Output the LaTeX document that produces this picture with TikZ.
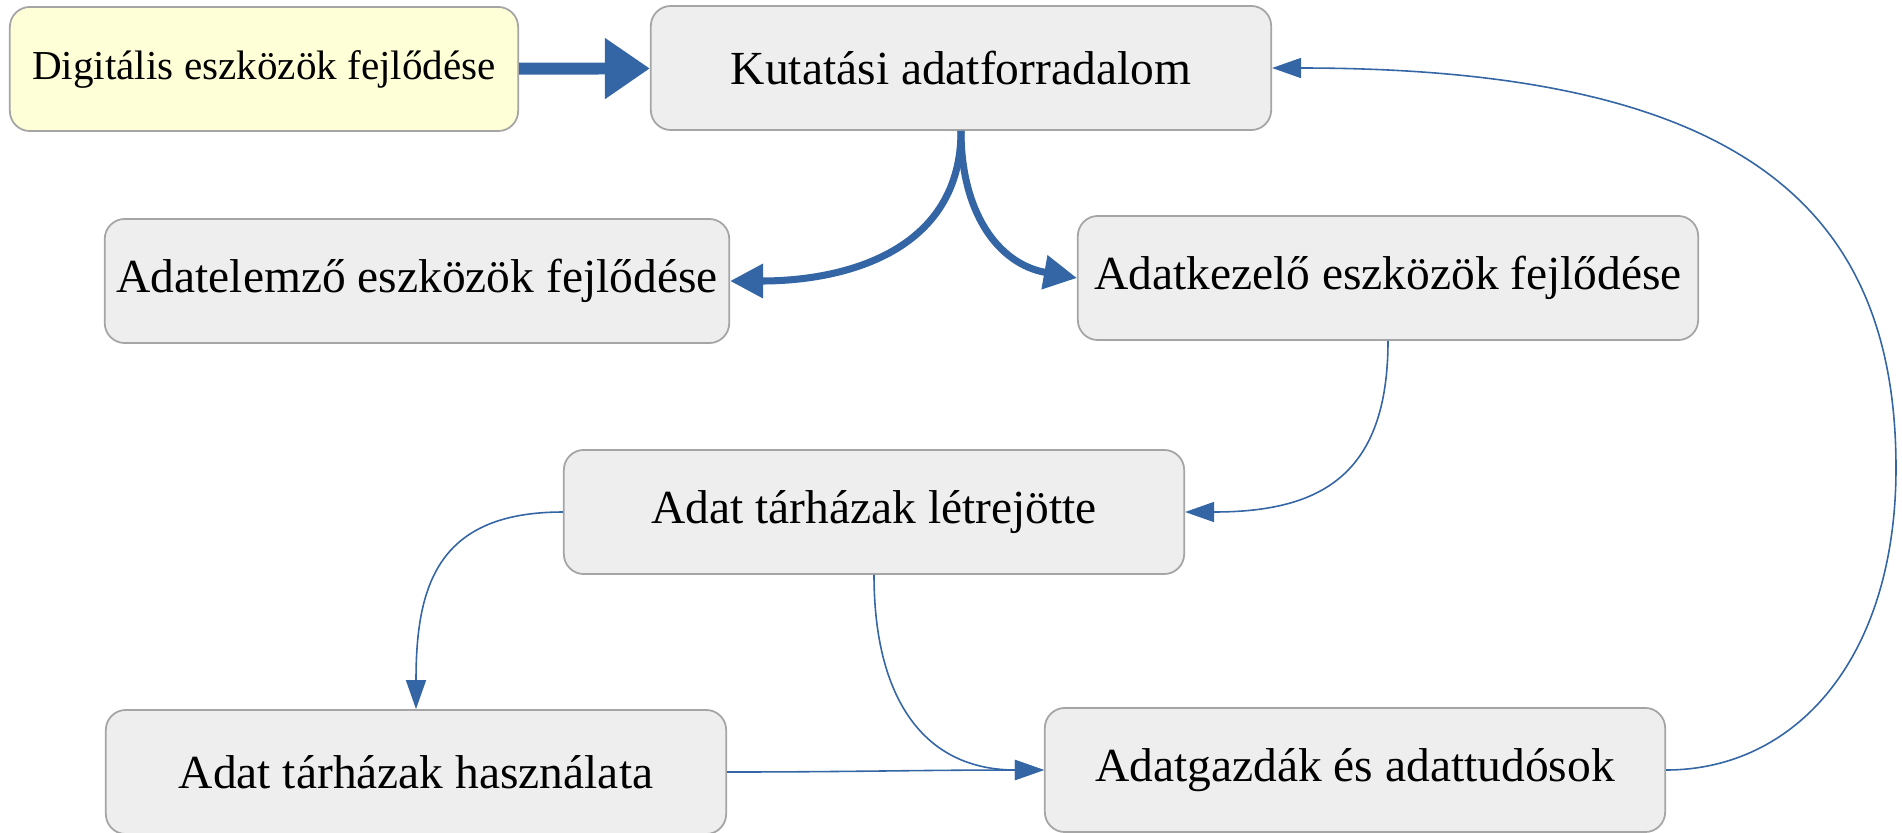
\documentclass[tikz,border=0pt]{standalone}
\usepackage{fontspec}
\setmainfont{Liberation Serif}
\usetikzlibrary{arrows.meta, positioning}
\definecolor{nyil}{RGB}{52,101,164}
\definecolor{szurke}{RGB}{238,238,238}
\definecolor{sarga}{RGB}{255,255,215}
\definecolor{keret}{RGB}{165,165,165}

\begin{document}
\begin{tikzpicture}[x=0.01cm, y=0.01cm,
    doboz/.style={draw=keret, fill=szurke, rounded corners=0.2cm, line width=0.5pt,
      minimum width=6.2cm, minimum height=1.24cm, font=\fontsize{13.5}{16}\selectfont},
    vastag/.style={draw=nyil, line width=2pt, -{Triangle[length=0.33cm, width=0.33cm]}},
    vekony/.style={draw=nyil, line width=0.45pt, -{Triangle[length=0.29cm, width=0.2cm]}}]
  \useasboundingbox (0,0) rectangle (1902,-833);

  \node[doboz, fill=sarga, minimum width=5.08cm, font=\fontsize{11.7}{14}\selectfont]
    (digit) at (264,-69) {Digitális eszközök fejlődése};
  \node[doboz] (kutat) at (961,-68) {Kutatási adatforradalom};
  \node[doboz] (elemzo) at (417,-281) {Adatelemző eszközök fejlődése};
  \node[doboz] (kezelo) at (1388,-278) {Adatkezelő eszközök fejlődése};
  \node[doboz] (letre) at (874,-512) {Adat tárházak létrejötte};
  \node[doboz] (hasz) at (416,-772) {Adat tárházak használata};
  \node[doboz] (gazda) at (1355,-770) {Adatgazdák és adattudósok};
  \coordinate (fordulo) at (1896,-468);

  \draw[nyil, line width=3.4pt, -{Triangle[length=0.45cm, width=0.58cm]}]
    (digit) -- (kutat);
  \draw[vastag] (kutat.south) to[out=-90, in=0, looseness=1.1] (elemzo.east);
  \draw[vastag] (kutat.south) to[out=-90, in=170, looseness=1.1] (kezelo.west);
  \draw[vekony] (kezelo.south) to[out=-90, in=0, looseness=1.3] (letre.east);
  \draw[vekony] (letre.west) to[out=180, in=90, looseness=1.3] (hasz.north);
  \draw[vekony] (letre.south) to[out=-90, in=180, looseness=1.2] (gazda.west);
  \draw[vekony] (hasz.east) to[out=0, in=180] (gazda.west);
  % visszacsatolas
  \draw[vekony] (gazda.east) .. controls +(130,0) and +(0,-190) .. (fordulo)
    .. controls +(0,260) and +(470,0) .. (kutat.east);
\end{tikzpicture}
\end{document}
